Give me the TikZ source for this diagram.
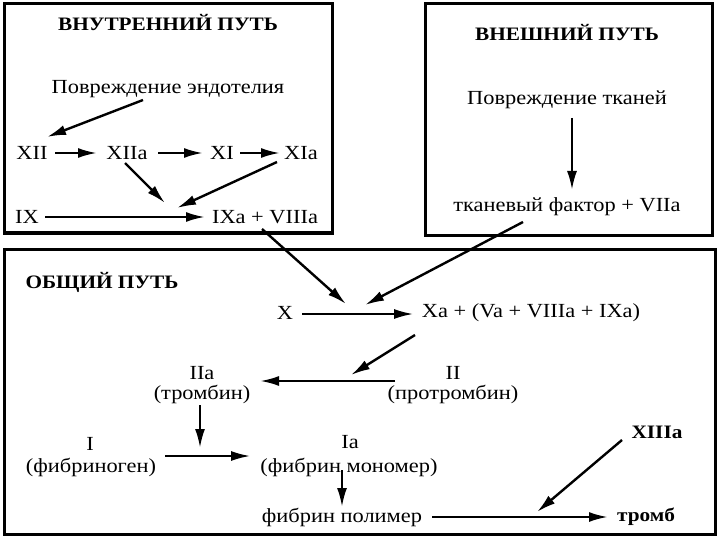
\documentclass[tikz,border=0pt]{standalone}
\usepackage{fontspec}
\setmainfont[FakeStretch=1.12]{Liberation Serif}
\usetikzlibrary{arrows.meta,calc}
\begin{document}
\begin{tikzpicture}[x=1pt,y=-1pt,
  txt/.style={font=\fontsize{20}{22}\selectfont, inner sep=1pt},
  hd/.style={font=\fontsize{19}{21}\selectfont\bfseries, inner sep=1pt},
  frame/.style={draw, line width=3pt},
  arr/.style={-{Latex[length=19pt,width=10pt]}, line width=2.4pt},
  tarr/.style={-{Latex[length=19pt,width=10pt]}, line width=1.8pt},
]
\useasboundingbox (0,0) rectangle (720,540);
\fill[white] (0,0) rectangle (720,540);
% frames
\draw[frame] (4,4) rectangle (332,233);
\draw[frame] (425,4) rectangle (712,235);
\draw[frame] (4,249) rectangle (715,534);

% intrinsic
\node[hd] (t1) at (168,23) {ВНУТРЕННИЙ ПУТЬ};
\node[txt] (pe) at (168,89) {Повреждение эндотелия};
\node[txt] (xii) at (32,153) {XII};
\node[txt] (xiia) at (127,153) {XIIa};
\node[txt] (xi) at (222,153) {XI};
\node[txt] (xia) at (301,153) {XIa};
\node[txt] (ix) at (27,217) {IX};
\node[txt] (ixa) at (265,217) {IXa + VIIIa};
\coordinate (m1) at (165,203);
\coordinate (m2) at (177,208);

\draw[arr] ($(pe)+(-25,11)$) -- ($(xii)+(15,-16)$);
\draw[arr] ($(xii)+(23,0)$) -- ($(xiia)+(-30,0)$);
\draw[arr] ($(xiia)+(31,0)$) -- ($(xi)+(-19,0)$);
\draw[arr] ($(xi)+(18,0)$) -- ($(xia)+(-21,0)$);
\draw[arr] ($(xiia)+(-2,10)$) -- (m1);
\draw[arr] ($(xia)+(-24,9)$) -- (m2);
\draw[arr] ($(ix)+(18,0)$) -- ($(ixa)+(-60,0)$);

% extrinsic
\node[hd] (t2) at (567,33) {ВНЕШНИЙ ПУТЬ};
\node[txt] (pt) at (567,100) {Повреждение тканей};
\node[txt] (tf) at (567,207) {тканевый фактор + VIIa};
\draw[arr] ($(pt)+(5,18)$) -- ($(tf)+(5,-17)$);

% common
\node[hd] (t3) at (102,282) {ОБЩИЙ ПУТЬ};
\node[txt] (x) at (285,313) {X};
\node[txt] (xa) at (531,313) {Xa + (Va + VIIIa + IXa)};
\coordinate (c1) at (346,304);
\coordinate (c2) at (365,305);
\draw[arr] ($(ixa)+(-3,12)$) -- (c1);
\draw[arr] ($(tf)+(-44,15)$) -- (c2);
\draw[tarr] ($(x)+(17,1)$) -- ($(xa)+(-118,1)$);

\node[txt] (iia) at (202,373) {IIa};
\node[txt] (iiat) at (202,394) {(тромбин)};
\node[txt] (ii) at (453,373) {II};
\node[txt] (iit) at (453,394) {(протромбин)};
\coordinate (c3) at (351,375);
\draw[arr] ($(xa)+(-116,22)$) -- (c3);
\draw[arr] ($(ii)+(-58,8)$) -- ($(iia)+(58,8)$);

\node[txt] (i) at (90,444) {I};
\node[txt] (fib) at (91,467) {(фибриноген)};
\node[txt] (ia) at (350,442) {Ia};
\node[txt] (mon) at (349,467) {(фибрин мономер)};
\coordinate (c4) at (200,448);
\draw[arr] ($(iiat)+(-2,11)$) -- (c4);
\draw[tarr] ($(fib)+(74,-11)$) -- ($(mon)+(-99,-11)$);

\node[txt] (pol) at (342,517) {фибрин полимер};
\node[hd] (tr) at (646,517) {тромб};
\node[hd] (xiiia) at (657,432) {XIIIa};
\draw[arr] ($(mon)+(-7,3)$) -- ($(pol)+(0,-10)$);
\draw[arr] ($(pol)+(90,0)$) -- ($(tr)+(-38,0)$);
\coordinate (c5) at (537,512);
\draw[arr] ($(xiiia)+(-35,8)$) -- (c5);
\end{tikzpicture}
\end{document}
